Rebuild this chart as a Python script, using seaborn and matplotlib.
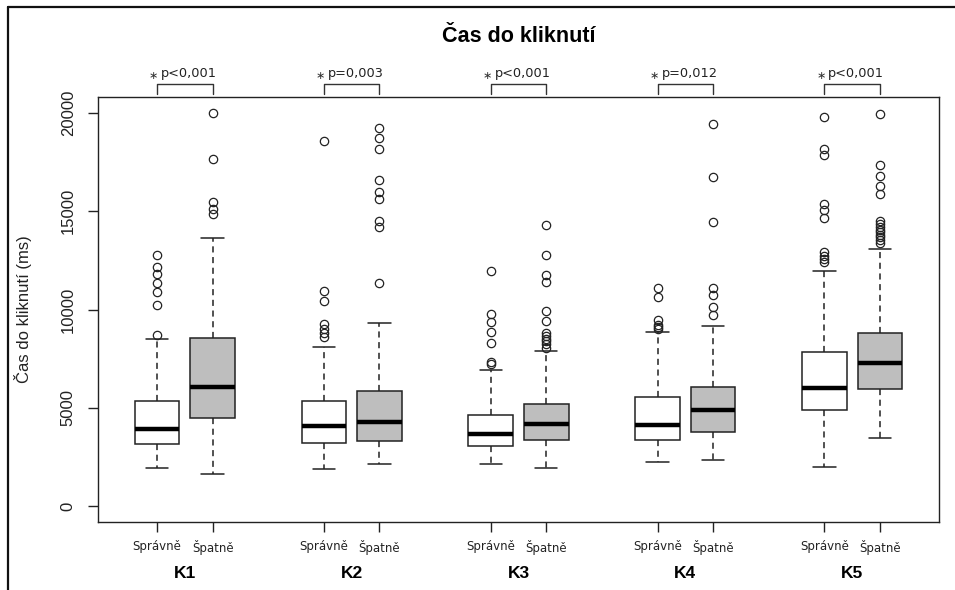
import matplotlib
matplotlib.use("Agg")
import matplotlib.pyplot as plt
import matplotlib.transforms as mtransforms
from matplotlib.lines import Line2D
import pandas as pd
import seaborn as sns

# ---------------- data ----------------
groups = ["K1", "K2", "K3", "K4", "K5"]
outcomes = ["Správně", "Špatně"]
p_labels = ["p<0,001", "p=0,003", "p<0,001", "p=0,012", "p<0,001"]
title = "Čas do kliknutí"
y_label = "Čas do kliknutí (ms)"
y_ticks = [0, 5000, 10000, 15000, 20000]

# Správně (correct) box statistics
sprav_low = [1950, 1900, 2170, 2240, 2020]
sprav_q1 = [3155, 3205, 3075, 3345, 4870]
sprav_med = [3905, 4070, 3665, 4120, 6025]
sprav_q3 = [5330, 5330, 4650, 5545, 7835]
sprav_high = [8500, 8090, 6920, 8840, 11960]
sprav_out = [
    [12770, 12160, 11810, 11370, 10910, 10250, 8720],
    [18560, 10940, 10430, 9250, 9030, 8800, 8590],
    [11980, 9790, 9350, 8840, 8315, 7330, 7250],
    [11080, 10655, 9465, 9195, 9110, 9010],
    [19770, 18140, 17850, 15350, 15050, 14630, 12930, 12720, 12555, 12390],
]

# Špatně (wrong) box statistics
spat_low = [1615, 2170, 1955, 2360, 3445]
spat_q1 = [4480, 3330, 3370, 3785, 5940]
spat_med = [6075, 4295, 4195, 4870, 7260]
spat_q3 = [8550, 5835, 5200, 6055, 8805]
spat_high = [13640, 9335, 7905, 9160, 13080]
spat_out = [
    [19985, 17645, 15440, 15100, 14860],
    [19235, 18695, 18170, 16560, 15965, 15595, 14490, 14200, 11350],
    [14320, 12775, 11775, 11420, 9945, 9400, 8805, 8670, 8520, 8380, 8230, 8060],
    [19425, 16730, 14435, 11115, 10740, 10110, 9740],
    [19935, 17325, 16795, 16285, 15845, 14490, 14335, 14200, 14065, 13930,
     13790, 13660, 13520, 13405],
]

# ---------------- build a sample that reproduces each box's statistics ----------------
stats = {
    "Správně": (sprav_low, sprav_q1, sprav_med, sprav_q3, sprav_high, sprav_out),
    "Špatně": (spat_low, spat_q1, spat_med, spat_q3, spat_high, spat_out),
}
rows = []
for gi, g in enumerate(groups):
    for oi, o in enumerate(outcomes):
        lo, q1, md, q3, hi, outs = (s[gi] for s in stats[o])
        pos = 3 * gi + 1 + oi
        vals = [lo] + [q1] * 100 + [md] * 100 + [q3] * 100 + [hi] + list(outs)
        rows += [{"pos": pos, "outcome": o, "group": g, "value": v} for v in vals]
df = pd.DataFrame(rows)

# ---------------- plot ----------------
sns.set_theme(style="white")
plt.rcParams["font.family"] = ["Liberation Sans", "DejaVu Sans"]

W, H = 955, 590
fig = plt.figure(figsize=(W / 100, H / 100), dpi=100)
ax_l, ax_r, ax_t, ax_b = 98, 939, 97, 522
ax = fig.add_axes([ax_l / W, 1 - ax_b / H, (ax_r - ax_l) / W, (ax_b - ax_t) / H])

line_c = "#222222"
sns.boxplot(
    data=df, x="pos", y="value", hue="outcome", hue_order=outcomes,
    palette={"Správně": "white", "Špatně": "#BEBEBE"},
    native_scale=True, dodge=False, width=0.8, legend=False,
    linecolor=line_c, linewidth=1.1,
    whiskerprops=dict(linestyle=(0, (4, 3))),
    medianprops=dict(color="black", linewidth=3.2),
    flierprops=dict(marker="o", markersize=6, markerfacecolor="none",
                    markeredgecolor=line_c, markeredgewidth=0.9),
    ax=ax,
)

ax.set_xlim(-0.06, 15.06)
ax.set_ylim(-800, 20800)

positions = [3 * gi + 1 + oi for gi in range(len(groups)) for oi in range(2)]
ax.set_xticks(positions)
ax.set_xticklabels(outcomes * len(groups), fontsize=8.5, family=["DejaVu Sans"],
                   color="#222222")
ax.set_yticks(y_ticks)
ax.set_yticklabels([str(t) for t in y_ticks], fontsize=12, color="#222222")
ax.tick_params(axis="y", labelrotation=90, length=7, width=1, pad=9,
               left=True, color=line_c)
for lab in ax.get_yticklabels():
    lab.set_va("center")
ax.tick_params(axis="x", length=7, width=1, pad=6, bottom=True, color=line_c)

ax.set_xlabel("")
ax.set_ylabel(y_label, fontsize=12, color="#222222", va="center")
ax.yaxis.set_label_coords((23 - ax_l) / (ax_r - ax_l), 0.5)

for sp in ax.spines.values():
    sp.set_visible(True)
    sp.set_color(line_c)
    sp.set_linewidth(1.0)

ax.set_title(title, y=1 + 60 / (ax_b - ax_t), pad=0, va="center",
             fontsize=15.5, fontweight="bold", color="black")

# group labels below the outcome labels
trans = mtransforms.blended_transform_factory(ax.transData, ax.transAxes)
for gi, g in enumerate(groups):
    ax.text(3 * gi + 1.5, -51 / (ax_b - ax_t), g, transform=trans, ha="center",
            va="center", fontsize=12.5, fontweight="bold", color="black")

# significance brackets
for gi, p in enumerate(p_labels):
    x1, x2 = 3 * gi + 1, 3 * gi + 2
    ax.plot([x1, x1, x2, x2], [20950, 21460, 21460, 20950], color="#333333",
            lw=1, clip_on=False)
    ax.text(x1 - 0.06, 21880, "\u2217", ha="center", va="center", fontsize=8,
            family=["DejaVu Sans"], color="#333333", clip_on=False)
    ax.text(x1 + 0.07, 21980, p, ha="left", va="center", fontsize=9.3,
            family=["DejaVu Sans"], color="#222222", clip_on=False)

# screenshot border (left and top)
fig.add_artist(Line2D([8 / W, 8 / W], [0, 1 - 7 / H], transform=fig.transFigure,
                      color="#111111", lw=1.6))
fig.add_artist(Line2D([8 / W, 1], [1 - 7 / H, 1 - 7 / H], transform=fig.transFigure,
                      color="#111111", lw=1.6))

fig.savefig("out.png", dpi=100)
